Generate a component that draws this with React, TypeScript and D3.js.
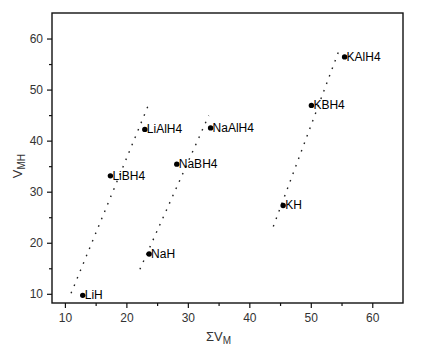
import React, { useEffect, useRef } from "react";
import * as d3 from "d3";

// hydride points: sum of metal volumes vs. hydride volume
const names = ["LiH", "LiBH4", "LiAlH4", "NaH", "NaBH4", "NaAlH4", "KH", "KBH4", "KAlH4"];
const sumVM = [12.9, 17.4, 23.0, 23.7, 28.2, 33.7, 45.5, 50.1, 55.5];
const vMH = [9.7, 33.1, 42.2, 17.8, 35.4, 42.5, 27.3, 46.9, 56.4];

// dotted guide lines (start/end in data units)
const guideX = [
  [11.0, 23.8],
  [22.2, 33.4],
  [43.9, 54.6],
];
const guideY = [
  [10.1, 47.6],
  [14.8, 44.9],
  [23.2, 57.7],
];

const xTicks = [10, 20, 30, 40, 50, 60];
const xMinor = [15, 25, 35, 45, 55];
const yTicks = [10, 20, 30, 40, 50, 60];
const yMinor = [15, 25, 35, 45, 55];

const App = () => {
  const svgRef = useRef<SVGSVGElement>(null);

  useEffect(() => {
    const svg = d3.select(svgRef.current);
    svg.selectAll("*").remove();

    const width = 426;
    const height = 351;
    const margin = { top: 13, right: 23, bottom: 48, left: 52 };
    const font = "'Liberation Sans', Arial, sans-serif";

    const x = d3.scaleLinear().domain([7.9, 65]).range([margin.left, width - margin.right]);
    const y = d3.scaleLinear().domain([8.2, 65]).range([height - margin.bottom, margin.top]);

    svg.attr("width", width).attr("height", height).style("background", "#fff");

    // frame
    svg
      .append("rect")
      .attr("x", margin.left)
      .attr("y", margin.top)
      .attr("width", width - margin.left - margin.right)
      .attr("height", height - margin.top - margin.bottom)
      .attr("fill", "none")
      .attr("stroke", "#111")
      .attr("stroke-width", 1.4);

    const styleAxis = (g) => {
      g.select(".domain").remove();
      g.selectAll("line").attr("stroke", "#111").attr("stroke-width", 1.2);
      g.selectAll("text").attr("font-family", font).attr("font-size", 12).attr("fill", "#333");
    };

    const bottom = height - margin.bottom;
    svg
      .append("g")
      .attr("transform", `translate(0,${bottom})`)
      .call(d3.axisBottom(x).tickValues(xTicks).tickSize(5).tickPadding(5))
      .call(styleAxis);
    svg
      .append("g")
      .attr("transform", `translate(0,${bottom})`)
      .call(d3.axisBottom(x).tickValues(xMinor).tickSize(3).tickFormat(() => ""))
      .call(styleAxis);

    svg
      .append("g")
      .attr("transform", `translate(${margin.left},0)`)
      .call(d3.axisLeft(y).tickValues(yTicks).tickSize(5).tickPadding(4))
      .call(styleAxis);
    svg
      .append("g")
      .attr("transform", `translate(${margin.left},0)`)
      .call(d3.axisLeft(y).tickValues(yMinor).tickSize(3).tickFormat(() => ""))
      .call(styleAxis);

    // axis titles
    const xt = svg
      .append("text")
      .attr("x", x(35))
      .attr("y", 341)
      .attr("text-anchor", "middle")
      .attr("font-family", font)
      .attr("font-size", 13)
      .attr("fill", "#333");
    xt.append("tspan").text("ΣV");
    xt.append("tspan").attr("font-size", 10).attr("dy", 3).text("M");

    const yt = svg
      .append("text")
      .attr("transform", `translate(22,${y(35)}) rotate(-90)`)
      .attr("text-anchor", "middle")
      .attr("font-family", font)
      .attr("font-size", 13)
      .attr("fill", "#333");
    yt.append("tspan").text("V");
    yt.append("tspan").attr("font-size", 10).attr("dy", 3).text("MH");

    // dotted guides
    svg
      .append("g")
      .selectAll("line")
      .data(guideX.map((gx, i) => ({ gx, gy: guideY[i] })))
      .join("line")
      .attr("x1", (d) => x(d.gx[0]))
      .attr("y1", (d) => y(d.gy[0]))
      .attr("x2", (d) => x(d.gx[1]))
      .attr("y2", (d) => y(d.gy[1]))
      .attr("stroke", "#222")
      .attr("stroke-width", 1.4)
      .attr("stroke-dasharray", "1.6,6.4");

    const pts = names.map((n, i) => ({ n, vx: sumVM[i], vy: vMH[i] }));

    svg
      .append("g")
      .selectAll("circle")
      .data(pts)
      .join("circle")
      .attr("cx", (d) => x(d.vx))
      .attr("cy", (d) => y(d.vy))
      .attr("r", 2.7)
      .attr("fill", "#000");

    svg
      .append("g")
      .selectAll("text")
      .data(pts)
      .join("text")
      .attr("x", (d) => x(d.vx) + 2)
      .attr("y", (d) => y(d.vy) + 4)
      .attr("font-family", font)
      .attr("font-size", 12)
      .attr("fill", "#000")
      .text((d) => d.n);
  }, []);

  return <svg ref={svgRef} style={{ position: "absolute", left: 0, top: 0, display: "block" }}></svg>;
};

export default App;
